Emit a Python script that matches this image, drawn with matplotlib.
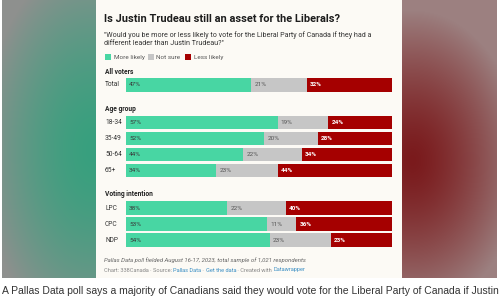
import matplotlib.pyplot as plt
import numpy as np
from matplotlib.patches import Rectangle

# --- data ---
groups = ["All voters", "Age group", "Voting intention"]
row_labels = ["Total", "18-34", "35-49", "50-64", "65+", "LPC", "CPC", "NDP"]
row_group = [0, 1, 1, 1, 1, 2, 2, 2]
more_likely = [47, 57, 52, 44, 34, 38, 53, 54]
not_sure = [21, 19, 20, 22, 23, 22, 11, 23]
less_likely = [32, 24, 28, 34, 44, 40, 36, 23]
series_names = ["More likely", "Not sure", "Less likely"]

GREEN = "#48d6a3"
GREY = "#c6c6c6"
RED = "#a50000"
W, H = 500, 300


def fx(px):
    return px / W


def fy(py):
    return 1 - py / H


fig = plt.figure(figsize=(5, 3), dpi=100)
fig.patch.set_facecolor("white")

# blurred side panels (decoration)
bg = fig.add_axes([0, 0, 1, 1])
bg.set_xlim(0, W)
bg.set_ylim(H, 0)
bg.axis("off")
yy, xx = np.mgrid[0:278, 0:94]
d = np.clip(np.hypot((xx - 90) / 110.0, (yy - 150) / 190.0), 0, 1) ** 1.6
d = np.maximum(d, np.clip(1 - xx / 12.0, 0, 1) * 0.8)
left = np.zeros((278, 94, 3))
g0 = np.array([0x38, 0xa0, 0x7e]) / 255
g1 = np.array([0x8e, 0x90, 0x8e]) / 255
for k in range(3):
    left[..., k] = g0[k] * (1 - d) + g1[k] * d
bg.imshow(left, extent=(2, 96, 278, 0), aspect="auto", interpolation="bilinear")
yy, xx = np.mgrid[0:278, 0:95]
d = np.clip(np.hypot((xx - 10) / 110.0, (yy - 160) / 150.0), 0, 1) ** 1.4
d = np.maximum(d, np.clip((xx - 83) / 12.0, 0, 1) * 0.7)
right = np.zeros((278, 95, 3))
r0 = np.array([0x7a, 0x1a, 0x1c]) / 255
r1 = np.array([0x9c, 0x80, 0x80]) / 255
for k in range(3):
    right[..., k] = r0[k] * (1 - d) + r1[k] * d
bg.imshow(right, extent=(402, 497, 278, 0), aspect="auto", interpolation="bilinear")
bg.add_patch(Rectangle((96, 0), 306, 278, facecolor="#fcfaf5", edgecolor="none", zorder=1))

# bar axes: x in percent, y in card pixels
ax = fig.add_axes([fx(126), fy(278), fx(392) - fx(126), 278 / H])
ax.set_xlim(0, 100)
ax.set_ylim(278, 0)
ax.axis("off")

ypos = [85 + 16 * i + 21.5 * g for i, g in enumerate(row_group)]
m = np.array(more_likely)
n = np.array(not_sure)
l = np.array(less_likely)
ax.barh(ypos, m, height=13.5, color=GREEN)
ax.barh(ypos, n, left=m, height=13.5, color=GREY)
ax.barh(ypos, l, left=m + n, height=13.5, color=RED)
for y, a, b, c, lab in zip(ypos, m, n, l, row_labels):
    ax.text(1.2, y, f"{a}%", va="center", ha="left", fontsize=4.6,
            color="#3a3a3a", family="Roboto")
    ax.text(a + 1.2, y, f"{b}%", va="center", ha="left", fontsize=4.6,
            color="#555555", family="Roboto")
    ax.text(a + b + 1.2, y, f"{c}%", va="center", ha="left", fontsize=4.6,
            color="white", family="Roboto", weight="bold")
    fig.text(fx(105), fy(y), lab, va="center", ha="left", fontsize=4.8,
             color="#333333", family="Roboto")

group_y = [72, 109, 194]
for g, gy in zip(groups, group_y):
    fig.text(fx(105), fy(gy), g, va="center", ha="left", fontsize=4.8,
             color="#222222", family="Roboto", weight="bold")

# header
fig.text(fx(104), fy(19), "Is Justin Trudeau still an asset for the Liberals?",
         va="center", ha="left", fontsize=7.9, weight="bold", color="#1d1d1d",
         family="Roboto")
fig.text(fx(104), fy(35), "\"Would you be more or less likely to vote for the Liberal Party of Canada if they had a",
         va="center", ha="left", fontsize=5.1, color="#333333", family="Roboto")
fig.text(fx(104), fy(43.5), "different leader than Justin Trudeau?\"",
         va="center", ha="left", fontsize=5.1, color="#333333", family="Roboto")

# legend
leg_x = [105, 148, 185]
for x0, name, col in zip(leg_x, series_names, [GREEN, GREY, RED]):
    bg.add_patch(Rectangle((x0, 54), 6, 6, facecolor=col, edgecolor="none", zorder=2))
    fig.text(fx(x0 + 8.5), fy(57.5), name, va="center", ha="left", fontsize=4.6,
             color="#555555", family="Roboto")

# notes
fig.text(fx(104), fy(260), "Pallas Data poll fielded August 16-17, 2023, total sample of 1,021 respondents",
         va="center", ha="left", fontsize=4.3, style="italic", color="#666666",
         family="Roboto")
credit = [("Chart: 338Canada · Source: ", "#888888"), ("Pallas Data", "#3b8fc4"),
          (" · ", "#888888"), ("Get the data", "#3b8fc4"),
          (" · Created with ", "#888888"), ("Datawrapper", "#3b8fc4")]
fig.canvas.draw()
renderer = fig.canvas.get_renderer()
x_cur = 104
for txt, col in credit:
    t = fig.text(fx(x_cur), fy(271.5), txt, va="baseline", ha="left", fontsize=4.1,
                 color=col, family="Roboto")
    bb = t.get_window_extent(renderer)
    x_cur += bb.width

# caption under the picture
fig.text(fx(2), fy(291), "A Pallas Data poll says a majority of Canadians said they would vote for the Liberal Party of Canada if Justin",
         va="center", ha="left", fontsize=7.45, color="#333333", family="Liberation Sans")

fig.savefig("out.png", dpi=100, facecolor="white")
